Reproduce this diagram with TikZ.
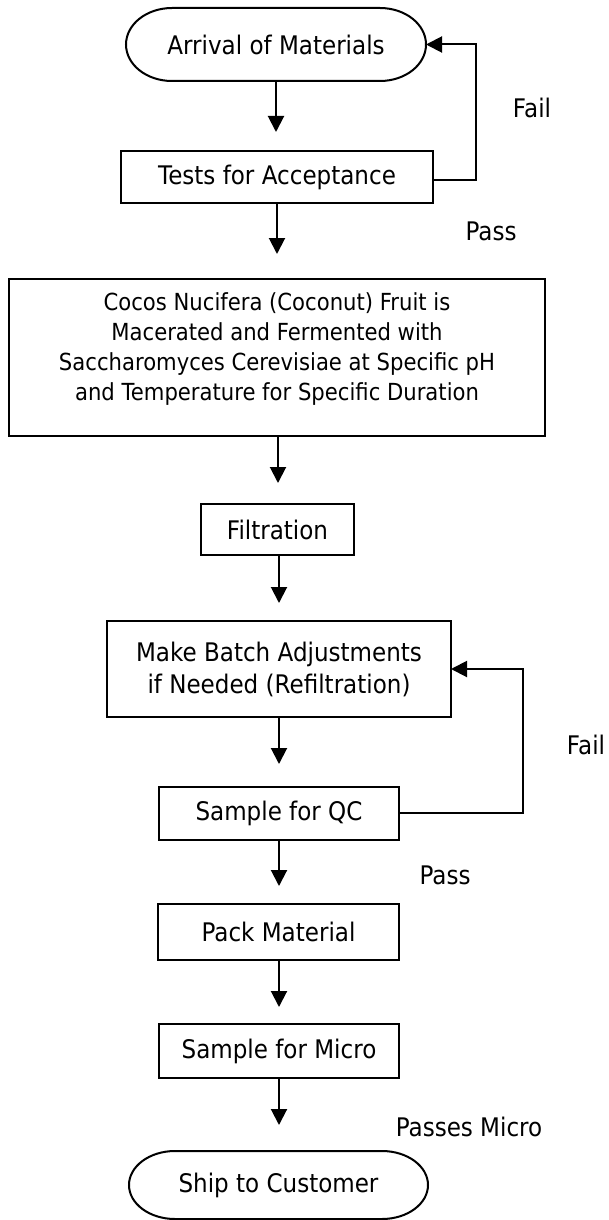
\documentclass[tikz,border=0pt]{standalone}
\usepackage{fontspec}
\setmainfont{DejaVu Sans}[FakeStretch=0.9]
\usetikzlibrary{arrows.meta}
\begin{document}
\begin{tikzpicture}[x=1pt,y=-1pt,
  every node/.style={inner sep=0pt, outer sep=0pt},
  txt/.style={font=\fontsize{25.6}{32}\selectfont},
  box/.style={txt, draw, line width=2pt, align=center},
  term/.style={txt, align=center},
  outline/.style={draw, line width=2pt},
  flow/.style={line width=2pt, -{Triangle[width=16pt,length=16pt]}},
]
\useasboundingbox (0,0) rectangle (609,1220);
% nodes
\node[term, minimum width=300pt, minimum height=73pt] (arrival) at (276,44.5) {Arrival of Materials};
\draw[outline] ([xshift=-46pt]arrival.north east) arc[start angle=90, end angle=-90, x radius=46pt, y radius=36.5pt]
  -- ([xshift=46pt]arrival.south west) arc[start angle=270, end angle=90, x radius=46pt, y radius=36.5pt] -- cycle;
\node[box, minimum width=312pt, minimum height=52pt] (tests) at (277,177) {Tests for Acceptance};
\node[box, minimum width=536pt, minimum height=157pt, font=\fontsize{23.5}{30}\selectfont] (ferment) at (277,357.5)
  {Cocos Nucifera (Coconut) Fruit is\\Macerated and Fermented with\\Saccharomyces Cerevisiae at Specific pH\\and Temperature for Specific Duration\rule[-22pt]{0pt}{0pt}};
\node[box, minimum width=153pt, minimum height=51pt] (filt) at (277.5,529.5) {Filtration};
\node[box, minimum width=344pt, minimum height=96pt] (batch) at (279,669) {Make Batch Adjustments\\if Needed (Refiltration)};
\node[box, minimum width=240pt, minimum height=53pt] (qc) at (279,813) {Sample for QC};
\node[box, minimum width=241pt, minimum height=56pt] (pack) at (278.5,932) {Pack Material};
\node[box, minimum width=240pt, minimum height=54pt] (micro) at (279,1051) {Sample for Micro};
\node[term, minimum width=299pt, minimum height=68pt] (ship) at (278.5,1185) {Ship to Customer};
\draw[outline] ([xshift=-46pt]ship.north east) arc[start angle=90, end angle=-90, x radius=46pt, y radius=34pt]
  -- ([xshift=46pt]ship.south west) arc[start angle=270, end angle=90, x radius=46pt, y radius=34pt] -- cycle;
% labels
\node[txt] (fail1) at (532,108) {Fail};
\node[txt] (pass1) at (491,231) {Pass};
\node[txt] (fail2) at (586,745) {Fail};
\node[txt] (pass2) at (445,875) {Pass};
\node[txt] (passmicro) at (469,1127) {Passes Micro};
% arrow tip coordinates
\coordinate (t1) at (277,132);
\coordinate (t2) at (277,254);
\coordinate (t3) at (278,483);
\coordinate (t4) at (279,603);
\coordinate (t5) at (279,764);
\coordinate (t6) at (279,886);
\coordinate (t7) at (279,1007);
\coordinate (t8) at (279,1125);
\coordinate (f1) at (476,180);
\coordinate (f2) at (523,813);
% connectors
\draw[flow] (arrival.south) -- (arrival.south |- t1);
\draw[flow] (tests.south) -- (tests.south |- t2);
\draw[flow] (ferment.south -| t3) -- (t3);
\draw[flow] (filt.south -| t4) -- (t4);
\draw[flow] (batch.south) -- (batch.south |- t5);
\draw[flow] (qc.south) -- (qc.south |- t6);
\draw[flow] (pack.south -| t7) -- (t7);
\draw[flow] (micro.south) -- (micro.south |- t8);
\draw[flow] (tests.east |- f1) -- (f1) -- (f1 |- arrival.east) -- (arrival.east);
\draw[flow] (qc.east) -- (f2) -- (f2 |- batch.east) -- (batch.east);
\end{tikzpicture}
\end{document}
